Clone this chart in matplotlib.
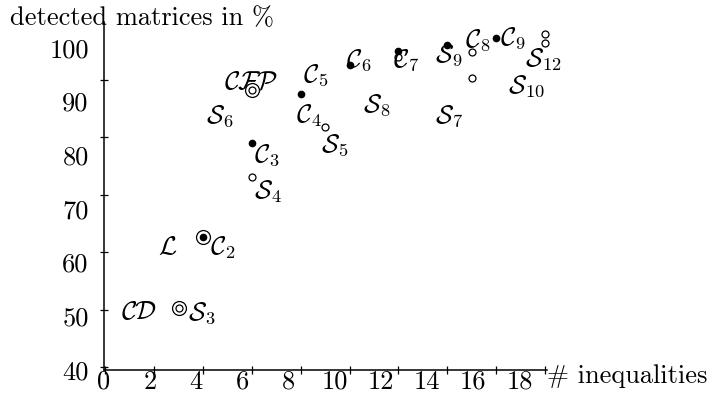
import matplotlib
matplotlib.use('Agg')
import matplotlib.pyplot as plt

plt.rcParams['font.family'] = 'cmr10'
plt.rcParams['mathtext.fontset'] = 'cm'
plt.rcParams['axes.unicode_minus'] = False
plt.rcParams['axes.formatter.use_mathtext'] = True

# ---- data ------------------------------------------------------------
# filled dots
dot_x = [4, 6, 8, 10, 12, 14, 16]
dot_y = [62.6, 79.0, 87.4, 92.6, 94.9, 96.0, 97.2]

# small open circles
ring_x = [3, 6, 6, 9, 12, 15, 15, 18, 18]
ring_y = [50.2, 88.1, 73.1, 81.7, 94.0, 94.7, 90.3, 97.9, 96.4]

# large rings around coinciding methods
big_ring_x = [3, 4, 6]
big_ring_y = [50.2, 62.6, 88.1]

# method labels (left edge / baseline, data units)
label_text = [r'$\mathcal{CD}$', r'$\mathcal{S}_3$', r'$\mathcal{L}$',
              r'$\mathcal{C}_2$', r'$\mathcal{S}_4$', r'$\mathcal{C}_3$',
              r'$\mathcal{S}_6$', r'$\mathcal{CFP}$', r'$\mathcal{C}_5$',
              r'$\mathcal{C}_4$', r'$\mathcal{S}_5$', r'$\mathcal{C}_6$',
              r'$\mathcal{C}_7$', r'$\mathcal{S}_8$', r'$\mathcal{S}_7$',
              r'$\mathcal{S}_9$', r'$\mathcal{C}_8$', r'$\mathcal{C}_9$',
              r'$\mathcal{S}_{12}$', r'$\mathcal{S}_{10}$']
label_x = [0.65, 3.39, 2.16, 4.29, 6.08, 6.08, 4.12, 4.86, 8.08, 7.8,
           8.82, 9.84, 11.76, 10.57, 13.5, 13.5, 14.73, 16.16, 17.18, 16.5]
label_y = [48.3, 48.3, 59.7, 59.5, 69.3, 75.7, 82.6, 88.3, 89.7, 82.6,
           77.4, 92.2, 92.2, 84.5, 82.6, 93.1, 95.7, 96.0, 92.2, 87.8]

x_ticks = [0, 2, 4, 6, 8, 10, 12, 14, 16, 18]
y_ticks = [40, 50, 60, 70, 80, 90]
y_tick_labels = [40, 50, 60, 70, 80, 90, 100]

# the printed tick labels sit on a slightly compressed scale in the original
X_LABEL_SCALE = 0.945
Y_LABEL_SCALE = 0.934

FS = 19

fig = plt.figure(figsize=(7.14, 3.96), dpi=100)
ax = fig.add_axes([104 / 714, 26 / 396, 443 / 714, 348 / 396])

ax.plot(big_ring_x, big_ring_y, 'o', ms=10, mfc='none', mec='black',
        mew=0.9, clip_on=False)
ax.plot(ring_x, ring_y, 'o', ms=5, mfc='white', mec='black', mew=0.9,
        clip_on=False)
ax.plot(dot_x, dot_y, 'o', ms=4.5, color='black', clip_on=False)

for txt, x, y in zip(label_text, label_x, label_y):
    ax.text(x, y, txt, fontsize=FS, ha='left', va='baseline')

ax.set_xlim(0, 18.08)
ax.set_ylim(40, 100)

for side in ('top', 'right'):
    ax.spines[side].set_visible(False)
for side in ('left', 'bottom'):
    ax.spines[side].set_linewidth(1.1)

# tick marks at the true values (minor), labels on the compressed scale (major)
ax.set_xticks(x_ticks, minor=True)
ax.set_yticks(y_ticks, minor=True)
ax.set_xticks([X_LABEL_SCALE * v - 0.05 for v in x_ticks],
              [str(v) for v in x_ticks])
ax.set_yticks([39.5 + Y_LABEL_SCALE * (v - 40) for v in y_tick_labels],
              [str(v) for v in y_tick_labels])
ax.tick_params(which='major', length=0, labelsize=FS)
ax.tick_params(axis='x', which='major', pad=0)
ax.tick_params(axis='y', which='major', pad=11)
ax.tick_params(which='minor', length=6, width=0.9, direction='inout')

fig.text(10 / 714, 1 - 25 / 396, 'detected matrices in %', fontsize=FS,
         ha='left', va='baseline')
fig.text(547 / 714, 1 - 383 / 396, '# inequalities', fontsize=FS,
         ha='left', va='baseline')

fig.savefig('out.png', dpi=100)
